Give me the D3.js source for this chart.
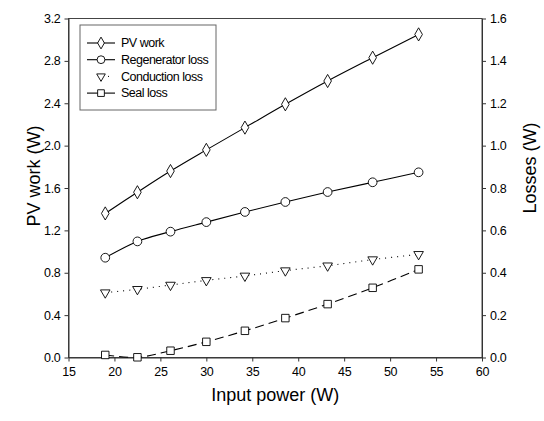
<!DOCTYPE html>
<html>
<head>
<meta charset="utf-8">
<script src="https://cdn.jsdelivr.net/npm/d3@7"></script>
<style>
  body { margin: 0; background: #fff; }
  text { font-family: "Liberation Sans", Arial, sans-serif; fill: #000; }
</style>
</head>
<body>
<div id="chart"></div>
<script>
// values
var inputPower = [19.0, 22.5, 26.1, 30.0, 34.2, 38.6, 43.2, 48.1, 53.1];
var pvWork = [1.36, 1.56, 1.76, 1.96, 2.17, 2.39, 2.61, 2.83, 3.05];
var regenLoss = [0.471, 0.548, 0.594, 0.639, 0.687, 0.734, 0.781, 0.827, 0.874];
var conductionLoss = [0.306, 0.322, 0.342, 0.364, 0.385, 0.41, 0.433, 0.462, 0.487];
var sealLoss = [0.012, 0.001, 0.032, 0.074, 0.126, 0.186, 0.252, 0.329, 0.416];
var xTicks = [15, 20, 25, 30, 35, 40, 45, 50, 55, 60];
var yLeftTicks = [0, 0.4, 0.8, 1.2, 1.6, 2.0, 2.4, 2.8, 3.2];
var yRightTicks = [0, 0.2, 0.4, 0.6, 0.8, 1.0, 1.2, 1.4, 1.6];

var series = [
  { name: "PV work", values: pvWork, axis: "left", marker: "diamond", dash: null },
  { name: "Regenerator loss", values: regenLoss, axis: "right", marker: "circle", dash: null },
  { name: "Conduction loss", values: conductionLoss, axis: "right", marker: "triangle", dash: "1,5", noLegendLine: true },
  { name: "Seal loss", values: sealLoss, axis: "right", marker: "square", dash: "9,5" }
];

var width = 544, height = 421;
var margin = { top: 18.5, right: 62, bottom: 63.5, left: 68.5 };

var svg = d3.select("#chart").append("svg")
  .attr("width", width).attr("height", height);

var x = d3.scaleLinear().domain([15, 60]).range([margin.left, width - margin.right]);
var yL = d3.scaleLinear().domain([0, 3.2]).range([height - margin.bottom, margin.top]);
var yR = d3.scaleLinear().domain([0, 1.6]).range([height - margin.bottom, margin.top]);

var fmt1 = d3.format(".1f");

// frame
svg.append("rect")
  .attr("x", margin.left).attr("y", margin.top)
  .attr("width", width - margin.right - margin.left)
  .attr("height", height - margin.bottom - margin.top)
  .style("fill", "none").style("stroke", "#444").style("stroke-width", 1);

function styleAxis(g) {
  g.select(".domain").style("stroke", "#333");
  g.selectAll(".tick line").style("stroke", "#333");
  g.selectAll("text").style("font-size", "12.5px").style("letter-spacing", "-0.3px")
    .style("font-family", "'Liberation Sans', Arial, sans-serif");
}

svg.append("g")
  .attr("transform", "translate(0," + (height - margin.bottom) + ")")
  .call(d3.axisBottom(x).tickValues(xTicks).tickSize(4).tickPadding(6).tickSizeOuter(0))
  .call(styleAxis);

svg.append("g")
  .attr("transform", "translate(" + margin.left + ",0)")
  .call(d3.axisLeft(yL).tickValues(yLeftTicks).tickFormat(fmt1).tickSize(4).tickPadding(4).tickSizeOuter(0))
  .call(styleAxis);

svg.append("g")
  .attr("transform", "translate(" + (width - margin.right) + ",0)")
  .call(d3.axisRight(yR).tickValues(yRightTicks).tickFormat(fmt1).tickSize(4).tickPadding(4).tickSizeOuter(0))
  .call(styleAxis);

// axis titles
svg.append("text")
  .attr("x", (margin.left + width - margin.right) / 2).attr("y", 401)
  .attr("text-anchor", "middle").style("font-size", "18px")
  .text("Input power (W)");

svg.append("text")
  .attr("transform", "translate(40,176) rotate(-90)")
  .attr("text-anchor", "middle").style("font-size", "18px")
  .text("PV work (W)");

svg.append("text")
  .attr("transform", "translate(536,168) rotate(-90)")
  .attr("text-anchor", "middle").style("font-size", "18px")
  .text("Losses (W)");

var symbolTypes = {
  diamond: d3.symbolDiamond,
  circle: d3.symbolCircle,
  triangle: d3.symbolTriangle,
  square: d3.symbolSquare
};
var symbolSizes = { diamond: 50, circle: 60, triangle: 40, square: 56 };
var symbolRotate = { diamond: 0, circle: 0, triangle: 180, square: 0 };

function markerPath(type, scale) {
  return d3.symbol().type(symbolTypes[type]).size(symbolSizes[type] * (scale || 1))();
}

series.forEach(function(s) {
  var yScale = s.axis === "left" ? yL : yR;
  var pts = inputPower.map(function(v, i) { return [x(v), yScale(s.values[i])]; });
  var line = d3.line().curve(d3.curveCatmullRom.alpha(0.5));
  svg.append("path")
    .attr("d", line(pts))
    .style("fill", "none").style("stroke", "#000").style("stroke-width", 1.1)
    .style("stroke-dasharray", s.dash);
  svg.append("g").selectAll("path").data(pts).enter().append("path")
    .attr("d", markerPath(s.marker))
    .attr("transform", function(d) { return "translate(" + d[0] + "," + d[1] + ") rotate(" + symbolRotate[s.marker] + ")"; })
    .style("fill", "#fff").style("stroke", "#000").style("stroke-width", 0.9);
});

// legend
var legend = svg.append("g");
legend.append("rect")
  .attr("x", 80).attr("y", 25).attr("width", 136).attr("height", 85)
  .style("fill", "#fff").style("stroke", "#666").style("stroke-width", 1);

series.forEach(function(s, i) {
  var ly = 43 + i * 16.7;
  if (!s.noLegendLine) {
    legend.append("line")
      .attr("x1", 87).attr("x2", 115).attr("y1", ly).attr("y2", ly)
      .style("stroke", "#000").style("stroke-width", 1.1);
  } else {
    legend.append("line")
      .attr("x1", 108).attr("x2", 112).attr("y1", ly).attr("y2", ly)
      .style("stroke", "#000").style("stroke-width", 1).style("stroke-dasharray", "1,3");
  }
  legend.append("path")
    .attr("d", markerPath(s.marker, 0.8))
    .attr("transform", "translate(101," + ly + ") rotate(" + symbolRotate[s.marker] + ")")
    .style("fill", "#fff").style("stroke", "#000").style("stroke-width", 0.9);
  legend.append("text")
    .attr("x", 121).attr("y", ly).attr("dy", "0.35em")
    .style("font-size", "12.5px").style("letter-spacing", "-0.5px")
    .text(s.name);
});
</script>
</body>
</html>
